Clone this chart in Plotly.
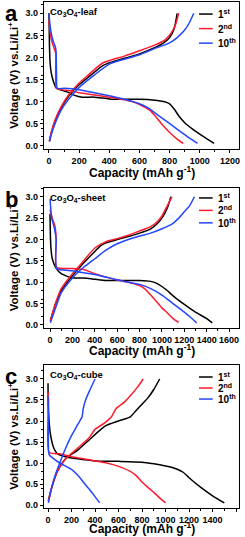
import plotly.graph_objects as go

# ---------------- data ----------------
cycle_labels = ["1<sup>st</sup>", "2<sup>nd</sup>", "10<sup>th</sup>"]
colors = ["#000000", "#ff1a2e", "#2346ff"]

# Panel a: Co3O4-leaf
a_dis_1_x = [0, 3, 8, 15, 30, 50, 80, 120, 170, 220, 300, 400, 500, 600, 700, 760, 800, 830, 860, 900, 950, 1000, 1050, 1095]
a_dis_1_y = [3.0, 2.3, 1.85, 1.65, 1.45, 1.3, 1.26, 1.22, 1.14, 1.1, 1.1, 1.06, 1.05, 1.05, 1.03, 1.0, 0.95, 0.83, 0.68, 0.52, 0.38, 0.26, 0.15, 0.05]
a_dis_2_x = [0, 8, 20, 35, 45, 50, 80, 150, 200, 300, 400, 500, 560, 620, 670, 710, 750, 800, 850, 890]
a_dis_2_y = [2.85, 2.55, 2.35, 2.2, 2.1, 1.3, 1.27, 1.24, 1.2, 1.15, 1.1, 1.04, 0.99, 0.9, 0.8, 0.65, 0.48, 0.3, 0.15, 0.05]
a_dis_3_x = [0, 10, 25, 45, 50, 55, 100, 200, 300, 400, 500, 600, 660, 720, 780, 840, 900, 950, 985]
a_dis_3_y = [3.0, 2.65, 2.4, 2.2, 1.6, 1.3, 1.3, 1.27, 1.2, 1.13, 1.05, 0.95, 0.85, 0.7, 0.55, 0.4, 0.25, 0.13, 0.05]
a_chg_1_x = [3, 15, 40, 80, 130, 200, 260, 320, 360, 420, 500, 600, 700, 760, 800, 830, 850]
a_chg_1_y = [0.1, 0.28, 0.55, 0.85, 1.12, 1.38, 1.55, 1.72, 1.82, 1.9, 1.98, 2.08, 2.22, 2.33, 2.45, 2.65, 3.0]
a_chg_2_x = [3, 15, 40, 80, 130, 200, 260, 320, 360, 420, 500, 600, 700, 770, 810, 840, 860]
a_chg_2_y = [0.1, 0.3, 0.58, 0.88, 1.15, 1.42, 1.6, 1.78, 1.88, 1.95, 2.03, 2.15, 2.28, 2.4, 2.55, 2.75, 3.0]
a_chg_3_x = [3, 15, 40, 80, 130, 200, 300, 400, 500, 600, 700, 800, 850, 900, 930, 960]
a_chg_3_y = [0.1, 0.25, 0.5, 0.8, 1.05, 1.32, 1.6, 1.85, 1.96, 2.06, 2.2, 2.33, 2.45, 2.62, 2.78, 3.0]

# Panel b: Co3O4-sheet
b_dis_1_x = [0, 3, 8, 20, 50, 100, 200, 300, 400, 500, 600, 800, 900, 950, 1000, 1050, 1100, 1200, 1300, 1400, 1450]
b_dis_1_y = [2.6, 2.1, 1.8, 1.55, 1.35, 1.2, 1.1, 1.1, 1.07, 1.04, 1.04, 1.04, 1.02, 0.98, 0.9, 0.8, 0.68, 0.48, 0.3, 0.15, 0.05]
b_dis_2_x = [0, 20, 45, 55, 60, 200, 300, 400, 500, 600, 700, 800, 850, 900, 950, 1000, 1050, 1100, 1150]
b_dis_2_y = [2.7, 2.5, 2.3, 2.0, 1.35, 1.32, 1.3, 1.2, 1.12, 1.05, 1.0, 0.92, 0.84, 0.7, 0.55, 0.4, 0.28, 0.15, 0.06]
b_dis_3_x = [0, 15, 40, 55, 60, 200, 300, 400, 500, 600, 700, 800, 900, 1000, 1100, 1200, 1260, 1310]
b_dis_3_y = [2.95, 2.5, 2.25, 2.0, 1.32, 1.27, 1.22, 1.18, 1.12, 1.06, 1.0, 0.95, 0.85, 0.7, 0.5, 0.3, 0.17, 0.05]
b_chg_1_x = [3, 50, 100, 200, 300, 400, 450, 500, 600, 700, 800, 900, 950, 1000, 1050, 1080]
b_chg_1_y = [0.1, 0.5, 0.8, 1.15, 1.45, 1.72, 1.85, 1.92, 2.0, 2.07, 2.15, 2.25, 2.35, 2.5, 2.75, 3.0]
b_chg_2_x = [3, 50, 100, 200, 300, 400, 500, 600, 700, 800, 900, 960, 1000, 1050, 1090]
b_chg_2_y = [0.1, 0.52, 0.85, 1.2, 1.5, 1.8, 1.95, 2.02, 2.1, 2.2, 2.3, 2.42, 2.55, 2.8, 3.0]
b_chg_3_x = [3, 50, 100, 200, 300, 400, 500, 600, 700, 800, 900, 1000, 1100, 1150, 1200, 1250, 1290]
b_chg_3_y = [0.05, 0.4, 0.75, 1.1, 1.35, 1.55, 1.75, 1.9, 2.0, 2.08, 2.15, 2.25, 2.38, 2.5, 2.65, 2.8, 3.0]

# Panel c: Co3O4-cube
c_dis_1_x = [0, 5, 20, 50, 80, 150, 250, 400, 600, 800, 900, 1000, 1050, 1100, 1150, 1200, 1300, 1400, 1500]
c_dis_1_y = [2.9, 2.2, 1.7, 1.35, 1.22, 1.15, 1.1, 1.05, 1.04, 1.02, 0.98, 0.93, 0.9, 0.85, 0.78, 0.65, 0.42, 0.22, 0.05]
c_dis_2_x = [0, 5, 10, 100, 200, 300, 400, 500, 600, 700, 750, 800, 850, 900, 950, 1000]
c_dis_2_y = [2.7, 2.5, 1.25, 1.22, 1.15, 1.1, 1.05, 1.0, 0.92, 0.8, 0.7, 0.55, 0.42, 0.3, 0.17, 0.05]
c_dis_3_x = [0, 5, 10, 50, 100, 200, 250, 300, 350, 400, 440]
c_dis_3_y = [2.6, 2.0, 1.2, 1.1, 1.0, 0.85, 0.72, 0.55, 0.38, 0.2, 0.05]
c_chg_1_x = [3, 30, 80, 150, 250, 350, 450, 500, 600, 700, 750, 800, 850, 900, 950]
c_chg_1_y = [0.1, 0.4, 0.8, 1.1, 1.3, 1.55, 1.8, 1.9, 2.0, 2.1, 2.25, 2.4, 2.55, 2.75, 3.0]
c_chg_2_x = [3, 30, 80, 150, 250, 350, 400, 480, 540, 580, 650, 700, 760, 810]
c_chg_2_y = [0.1, 0.4, 0.8, 1.1, 1.35, 1.6, 1.8, 1.95, 2.1, 2.3, 2.45, 2.6, 2.8, 3.0]
c_chg_3_x = [3, 30, 60, 100, 150, 200, 250, 290, 300, 320, 350, 400]
c_chg_3_y = [0.05, 0.4, 0.7, 1.0, 1.35, 1.65, 1.9, 2.1, 2.3, 2.5, 2.7, 3.0]

panel_letters = ["a", "b", "c"]
panel_names = ["Co<sub>3</sub>O<sub>4</sub>-leaf", "Co<sub>3</sub>O<sub>4</sub>-sheet", "Co<sub>3</sub>O<sub>4</sub>-cube"]
x_title = "Capacity (mAh g<sup>-1</sup>)"
y_title = "Voltage (V) vs.Li/Li<sup>+</sup>"
x_tick_vals = [[0, 200, 400, 600, 800, 1000, 1200],
               [0, 200, 400, 600, 800, 1000, 1200, 1400, 1600],
               [0, 200, 400, 600, 800, 1000, 1200, 1400, 1600]]
y_tick_vals = [0.0, 0.5, 1.0, 1.5, 2.0, 2.5, 3.0]

panels = [
    [(a_dis_1_x, a_dis_1_y, a_chg_1_x, a_chg_1_y),
     (a_dis_2_x, a_dis_2_y, a_chg_2_x, a_chg_2_y),
     (a_dis_3_x, a_dis_3_y, a_chg_3_x, a_chg_3_y)],
    [(b_dis_1_x, b_dis_1_y, b_chg_1_x, b_chg_1_y),
     (b_dis_2_x, b_dis_2_y, b_chg_2_x, b_chg_2_y),
     (b_dis_3_x, b_dis_3_y, b_chg_3_x, b_chg_3_y)],
    [(c_dis_1_x, c_dis_1_y, c_chg_1_x, c_chg_1_y),
     (c_dis_2_x, c_dis_2_y, c_chg_2_x, c_chg_2_y),
     (c_dis_3_x, c_dis_3_y, c_chg_3_x, c_chg_3_y)],
]

# ---------------- layout geometry ----------------
W, H = 245, 537
FONT = "Liberation Sans, Arial, sans-serif"
x_dom = [44 / W, 239 / W]
y_px = [(2, 149), (188, 328), (365, 508)]
x_title_px = [172, 350, 528]
legend_top = [0.918, 0.929, 0.916]
legend_step = [0.099, 0.089, 0.077]
x_ranges = [[-33, 1260], [-54, 1689], [-34, 1625]]
y_ranges = [[-0.075, 3.256], [-0.071, 3.205], [-0.071, 3.333]]

fig = go.Figure()
layout = dict(
    width=W, height=H, margin=dict(l=0, r=0, t=0, b=0),
    paper_bgcolor="white", plot_bgcolor="white", showlegend=False,
    font=dict(family=FONT, color="black"),
)
annotations = []
shapes = []

for i in range(3):
    sfx = "" if i == 0 else str(i + 1)
    xa, ya = "x" + sfx, "y" + sfx
    for k in range(3):
        dx, dy, cx, cy = panels[i][k]
        for xs, ys in ((dx, dy), (cx, cy)):
            fig.add_trace(go.Scatter(
                x=xs, y=ys, mode="lines", xaxis=xa, yaxis=ya,
                line=dict(color=colors[k], width=1.5, shape="spline", smoothing=0.6),
                name=cycle_labels[k], hoverinfo="skip"))
    top, bot = y_px[i]
    common = dict(showline=True, linecolor="black", linewidth=1.3, mirror=True,
                  ticks="outside", ticklen=3, tickwidth=1, tickcolor="black",
                  showgrid=False, zeroline=False, automargin=False,
                  tickfont=dict(family=FONT, size=9, weight="bold"),
                  minor=dict(ticks="outside", ticklen=2, tickwidth=1, tickcolor="black"))
    layout["xaxis" + sfx] = dict(
        common, domain=x_dom, anchor=ya, range=x_ranges[i],
        tickvals=x_tick_vals[i])
    layout["yaxis" + sfx] = dict(
        common, domain=[1 - bot / H, 1 - top / H], anchor=xa, range=y_ranges[i],
        tickvals=y_tick_vals, tickformat=".1f",
        title=dict(text=y_title, standoff=4,
                   font=dict(family=FONT, size=11.5, weight="bold")))
    # x axis title
    annotations.append(dict(text=x_title, xref="paper", yref="paper",
                            x=(x_dom[0] + x_dom[1]) / 2, y=1 - x_title_px[i] / H,
                            xanchor="center", yanchor="middle", showarrow=False,
                            font=dict(family=FONT, size=12, weight="bold")))
    # panel letter
    annotations.append(dict(text=panel_letters[i], xref="paper", yref="paper",
                            x=3 / W, y=1 - (top - 3) / H, xanchor="left", yanchor="top",
                            showarrow=False, font=dict(family=FONT, size=22, weight="bold")))
    # sample name
    annotations.append(dict(text=panel_names[i], xref=xa + " domain", yref=ya + " domain",
                            x=0.02, y=0.985, xanchor="left", yanchor="top", showarrow=False,
                            font=dict(family=FONT, size=9.5, weight="bold")))
    # legend (manual)
    for k in range(3):
        ly = legend_top[i] - k * legend_step[i]
        shapes.append(dict(type="line", xref=xa + " domain", yref=ya + " domain",
                           x0=0.795, x1=0.865, y0=ly, y1=ly,
                           line=dict(color=colors[k], width=1.5)))
        annotations.append(dict(text=cycle_labels[k], xref=xa + " domain", yref=ya + " domain",
                                x=0.88, y=ly, xanchor="left", yanchor="middle", showarrow=False,
                                font=dict(family=FONT, size=10, weight="bold")))

layout["annotations"] = annotations
layout["shapes"] = shapes
fig.update_layout(**layout)
fig.write_html("out.html", config={"displayModeBar": False},
               post_script="document.body.style.margin='0';document.body.style.overflow='hidden';")
